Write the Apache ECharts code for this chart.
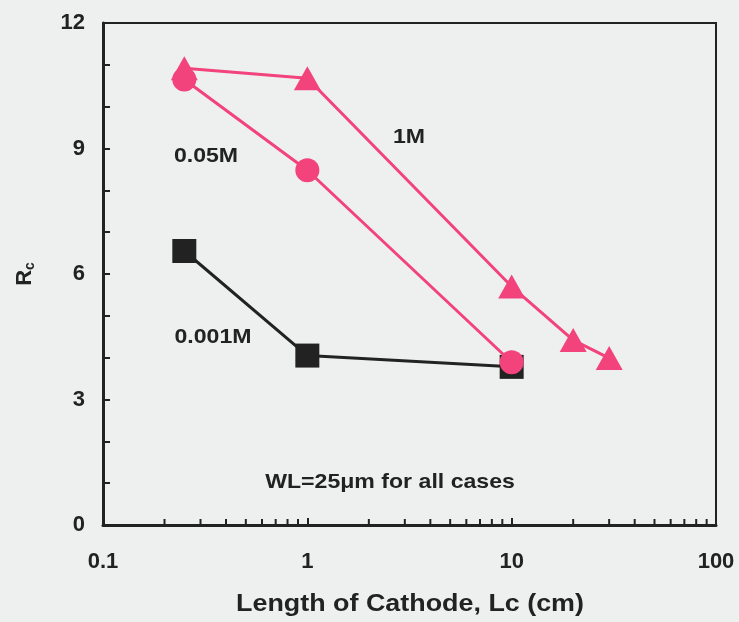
<!DOCTYPE html>
<html>
<head>
<meta charset="utf-8">
<script src="https://cdn.jsdelivr.net/npm/echarts@6/dist/echarts.min.js"></script>
<style>
  html, body { margin: 0; padding: 0; background: #eef0f0; }
  #chart { width: 739px; height: 622px; }
</style>
</head>
<body>
<div id="chart"></div>
<script>
// cathode length (cm) for each series
var x_001M = [0.25, 1, 10];
var x_005M = [0.25, 1, 10];
var x_1M = [0.25, 1, 10, 20, 30];
// Rc values
var rc_001M = [6.55, 4.05, 3.78];
var rc_005M = [10.65, 8.48, 3.89];
var rc_1M = [10.92, 10.68, 5.7, 4.42, 3.99];
// log axis minor ticks
var minorTicksX = [0.2, 0.3, 0.4, 0.5, 0.6, 0.7, 0.8, 0.9, 2, 3, 4, 5, 6, 7, 8, 9, 20, 30, 40, 50, 60, 70, 80, 90];

var PINK = '#f2437c';
var INK = '#222222';
var FONT = 'Liberation Sans';

function pairs(xs, ys) {
  return xs.map(function (x, i) { return [x, ys[i]]; });
}

// stretched bold note text, like the scanned figure
function note(text, cx, cy) {
  return {
    type: 'text', x: cx, y: cy, scaleX: 1.1,
    style: { text: text, font: 'bold 21px "Liberation Sans"', fill: INK, align: 'center', verticalAlign: 'middle' }
  };
}

var chart = echarts.init(document.getElementById('chart'));
chart.setOption({
  backgroundColor: '#eef0f0',
  animation: false,
  grid: {
    left: 103, top: 23, right: 23, bottom: 97,
    show: true, borderColor: INK, borderWidth: 2, backgroundColor: 'transparent'
  },
  xAxis: {
    type: 'log',
    logBase: 10,
    min: 0.1,
    max: 100,
    axisLine: { lineStyle: { color: INK, width: 3 } },
    axisTick: { inside: true, length: 7, lineStyle: { color: INK, width: 2 } },
    axisLabel: {
      margin: 26, fontFamily: FONT, fontWeight: 'bold', fontSize: 22, color: INK,
      formatter: function (v) { return String(+v.toPrecision(3)); }
    },
    splitLine: { show: false }
  },
  yAxis: {
    type: 'value',
    min: 0,
    max: 12,
    interval: 3,
    name: '{r|R}{s|c}',
    nameLocation: 'middle',
    nameRotate: 90,
    nameGap: 66,
    nameTextStyle: {
      rich: {
        r: { fontFamily: FONT, fontWeight: 'bold', fontSize: 22, color: INK },
        s: { fontFamily: FONT, fontWeight: 'bold', fontSize: 14, color: INK, verticalAlign: 'bottom', padding: [10, 0, 0, 0] }
      }
    },
    axisLine: { lineStyle: { color: INK, width: 3 } },
    axisTick: { inside: true, length: 7, lineStyle: { color: INK, width: 2 } },
    minorTick: { show: true, splitNumber: 3, length: 7, lineStyle: { color: INK, width: 2 } },
    axisLabel: { margin: 18, fontFamily: FONT, fontWeight: 'bold', fontSize: 22, color: INK },
    splitLine: { show: false }
  },
  series: [
    {
      name: 'minor',
      type: 'custom',
      silent: true,
      data: minorTicksX.map(function (v) { return [v, 0]; }),
      renderItem: function (params, api) {
        var p = api.coord([api.value(0), 0]);
        return {
          type: 'line',
          shape: { x1: p[0], y1: p[1], x2: p[0], y2: p[1] - 6 },
          style: { stroke: INK, lineWidth: 2 }
        };
      },
      z: 1
    },
    {
      name: '1M',
      type: 'line',
      data: pairs(x_1M, rc_1M),
      symbol: 'triangle',
      symbolSize: [27, 24],
      lineStyle: { color: PINK, width: 3 },
      itemStyle: { color: PINK },
      z: 2
    },
    {
      name: '0.001M',
      type: 'line',
      data: pairs(x_001M, rc_001M),
      symbol: 'rect',
      symbolSize: 24,
      lineStyle: { color: INK, width: 3 },
      itemStyle: { color: INK },
      z: 3
    },
    {
      name: '0.05M',
      type: 'line',
      data: pairs(x_005M, rc_005M),
      symbol: 'circle',
      symbolSize: 24,
      lineStyle: { color: PINK, width: 3 },
      itemStyle: { color: PINK },
      z: 4
    }
  ],
  graphic: [
    note('0.05M', 206, 156),
    note('1M', 409, 137),
    note('0.001M', 213, 337),
    note('WL=25\u03bcm for all cases', 390, 482),
    {
      type: 'text', x: 410, y: 604, scaleX: 1.12,
      style: { text: 'Length of Cathode, Lc (cm)', font: 'bold 24px "Liberation Sans"', fill: INK, align: 'center', verticalAlign: 'middle' }
    }
  ]
});
</script>
</body>
</html>
